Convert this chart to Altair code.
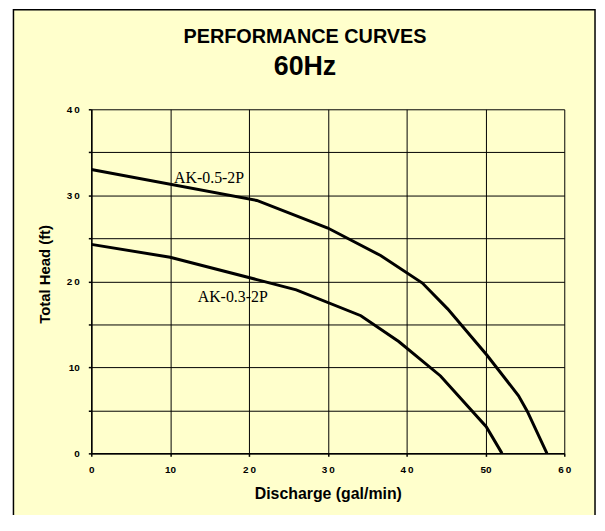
import altair as alt
import pandas as pd

# ---- data ----
flow_05 = [0, 21, 30, 36.7, 42, 45.2, 50.2, 54.2, 55.3, 57.8]
head_05 = [33.0, 29.4, 26.2, 23.0, 19.8, 16.8, 11.4, 6.7, 4.9, 0]
flow_03 = [0, 10, 21, 26, 34.2, 39, 44.3, 50.1, 52.1]
head_03 = [24.3, 22.8, 20.2, 19.0, 16.0, 13.0, 9.0, 3.1, 0]

label_names = ["AK-0.5-2P", "AK-0.3-2P"]
label_flow = [10.5, 13.5]
label_head = [32.0, 18.2]

x_ticks = [0, 5, 10, 15, 20, 25, 30, 35, 40, 45, 50, 55, 60]
y_ticks = [0, 5, 10, 15, 20, 25, 30, 35, 40]

curves = pd.DataFrame({
    "model": ["AK-0.5-2P"] * len(flow_05) + ["AK-0.3-2P"] * len(flow_03),
    "flow": flow_05 + flow_03,
    "head": head_05 + head_03,
})
labels = pd.DataFrame({"name": label_names, "flow": label_flow, "head": label_head})

thin = "\u2009"
x_label_expr = (
    "datum.value % 10 != 0 ? '' : "
    "(datum.value == 0 || datum.value == 10 || datum.value == 50) ? datum.label : "
    "slice(datum.label, 0, 1) + '" + thin + "' + slice(datum.label, 1)"
)
y_label_expr = (
    "datum.value % 10 != 0 ? '' : "
    "(datum.value == 0 || datum.value == 10) ? datum.label : "
    "slice(datum.label, 0, 1) + '" + thin + "' + slice(datum.label, 1)"
)

x_enc = alt.X(
    "flow:Q",
    scale=alt.Scale(domain=[0, 60], nice=False, zero=True),
    axis=alt.Axis(
        values=x_ticks, labelExpr=x_label_expr, title="Discharge (gal/min)",
        grid=True, gridColor="black", gridWidth=1, gridOpacity=1,
        domainColor="black", domainWidth=1.5, tickColor="black", tickSize=3, tickWidth=1.5,
        labelFont="Liberation Sans", labelFontSize=10, labelFontWeight="bold", labelColor="black",
        labelPadding=8, labelFlush=False, labelOverlap=False,
        titleFont="Liberation Sans", titleFontSize=16, titleFontWeight="bold", titleColor="black",
        titlePadding=12, zindex=1,
    ),
)
y_enc = alt.Y(
    "head:Q",
    scale=alt.Scale(domain=[0, 40], nice=False, zero=True),
    axis=alt.Axis(
        values=y_ticks, labelExpr=y_label_expr, title="Total Head (ft)",
        grid=True, gridColor="black", gridWidth=1, gridOpacity=1,
        domainColor="black", domainWidth=1.5, tickColor="black", tickSize=3, tickWidth=1.5,
        labelFont="Liberation Sans", labelFontSize=10, labelFontWeight="bold", labelColor="black",
        labelPadding=9, labelFlush=False, labelOverlap=False,
        titleFont="Liberation Sans", titleFontSize=15, titleFontWeight="bold", titleColor="black",
        titlePadding=14, titleY=166, zindex=1,
    ),
)

frame = alt.Chart(pd.DataFrame({"f": [0]})).mark_rect(
    fill="#FFFFCC", stroke="black", strokeWidth=1.5
).encode(
    x=alt.value(-78.5), x2=alt.value(508), y=alt.value(-100.5), y2=alt.value(440)
)

lines = alt.Chart(curves).mark_line(color="black", strokeWidth=3).encode(
    x=x_enc, y=y_enc, detail="model:N", order="flow:Q"
)

texts = alt.Chart(labels).mark_text(
    font="Liberation Serif", fontSize=16, align="left", baseline="middle", color="black"
).encode(x="flow:Q", y="head:Q", text="name:N")

chart = alt.layer(frame, lines, texts).properties(
    width=477,
    height=347,
    autosize=alt.AutoSizeParams(type="none"),
    padding={"left": 84, "top": 100, "right": 33, "bottom": 60},
    background="white",
    title=alt.TitleParams(
        text="PERFORMANCE CURVES", subtitle="60Hz",
        font="Liberation Sans", fontSize=20, fontWeight="bold", color="black",
        subtitleFont="Liberation Sans", subtitleFontSize=27, subtitleFontWeight="bold",
        subtitleColor="black", subtitlePadding=8,
        anchor="middle", frame="group", dx=-23, offset=-72,
    ),
).configure_view(stroke="black", strokeWidth=1)

chart.save("out.html", embed_options={"renderer": "svg", "actions": False})
